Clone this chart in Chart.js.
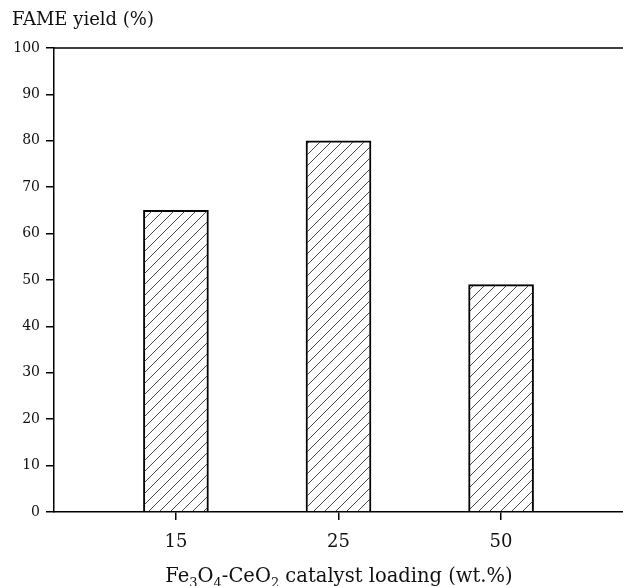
<!DOCTYPE html>
<html>
<head>
<meta charset="utf-8">
<script src="https://cdn.jsdelivr.net/npm/chart.js@4/dist/chart.umd.min.js"></script>
<style>
    body { margin: 0; background: #fff; }
    #wrap { position: relative; width: 623px; height: 586px; font-family: "DejaVu Serif", serif; color: #111; }
    #yTitle { position: absolute; left: 12px; top: 8px; font-size: 18px; }
    #xTitle { position: absolute; left: 0; width: 678px; top: 564px; font-size: 19.5px; text-align: center; white-space: nowrap; }
    sub { font-size: 13px; vertical-align: -5px; line-height: 0; }
</style>
</head>
<body>
<div id="wrap">
    <canvas id="chart" width="623" height="586"></canvas>
    <div id="yTitle">FAME yield (%)</div>
    <div id="xTitle">Fe<sub>3</sub>O<sub>4</sub>-CeO<sub>2</sub> catalyst loading (wt.%)</div>
</div>
<script>
// Data
const loadings = ['15', '25', '50'];
const yields = [65, 80, 49];
const yTicks = [0, 10, 20, 30, 40, 50, 60, 70, 80, 90, 100];

function makeHatch() {
    const c = document.createElement('canvas');
    c.width = 11;
    c.height = 11;
    const ctx = c.getContext('2d');
    ctx.strokeStyle = '#333';
    ctx.lineWidth = 0.9;
    ctx.beginPath();
    ctx.moveTo(-1, 12);
    ctx.lineTo(12, -1);
    ctx.stroke();
    return ctx.createPattern(c, 'repeat');
}

// Line along the top of the plot area
const topLine = {
    id: 'topLine',
    afterDraw(chart) {
        const { ctx, chartArea } = chart;
        ctx.save();
        ctx.strokeStyle = '#000';
        ctx.lineWidth = 1.5;
        ctx.beginPath();
        ctx.moveTo(chartArea.left, chartArea.top);
        ctx.lineTo(chart.width, chartArea.top);
        ctx.stroke();
        ctx.restore();
    }
};

const tickFont = { family: '"DejaVu Serif", serif' };

new Chart(document.getElementById('chart'), {
    type: 'bar',
    data: {
        datasets: [{
            data: yields.map((v, i) => ({ x: i, y: v })),
            backgroundColor: makeHatch(),
            borderColor: '#000',
            borderWidth: 1.3,
            barThickness: 65
        }]
    },
    plugins: [topLine],
    options: {
        responsive: false,
        animation: false,
        layout: { padding: { top: 48, right: 0, left: 0, bottom: 0 } },
        plugins: {
            legend: { display: false },
            tooltip: { enabled: false }
        },
        scales: {
            x: {
                type: 'linear',
                min: -0.75,
                max: 2.75,
                offset: false,
                afterBuildTicks: axis => {
                    axis.ticks = loadings.map((l, i) => ({ value: i }));
                },
                afterFit: axis => { axis.height = 74; },
                ticks: {
                    color: '#111',
                    font: { ...tickFont, size: 18 },
                    padding: 12,
                    callback: (v) => loadings[v]
                },
                grid: {
                    offset: false,
                    drawOnChartArea: false,
                    drawTicks: true,
                    tickLength: 8,
                    color: '#000',
                    lineWidth: 1.5
                },
                border: { color: '#000', width: 1.5 }
            },
            y: {
                min: 0,
                max: 100,
                afterBuildTicks: axis => {
                    axis.ticks = yTicks.map(v => ({ value: v }));
                },
                afterFit: axis => { axis.width = 54; },
                ticks: {
                    color: '#111',
                    font: { ...tickFont, size: 14 },
                    padding: 6
                },
                grid: {
                    drawOnChartArea: false,
                    drawTicks: true,
                    tickLength: 8,
                    color: '#000',
                    lineWidth: 1.5
                },
                border: { color: '#000', width: 1.5 }
            }
        }
    }
});
</script>
</body>
</html>
